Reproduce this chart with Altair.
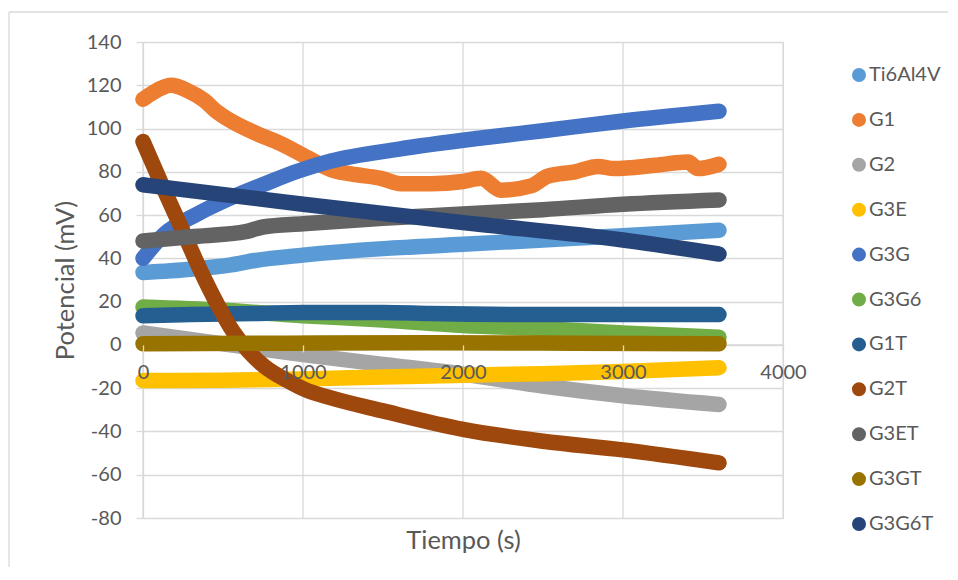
import altair as alt
import pandas as pd

names = ["Ti6Al4V", "G1", "G2", "G3E", "G3G", "G3G6", "G1T", "G2T", "G3ET", "G3GT", "G3G6T"]
colors = ["#5B9BD5", "#ED7D31", "#A5A5A5", "#FFC000", "#4472C4", "#70AD47",
          "#255E91", "#9E480E", "#636363", "#997300", "#264478"]

t_ti6al4v = [0, 300, 550, 700, 1000, 1500, 2000, 2500, 3000, 3600]
v_ti6al4v = [33.5, 35, 37, 39, 41.5, 44.5, 46.5, 48.5, 50.5, 53]

t_g1 = [0, 60, 175, 280, 383, 450, 550, 700, 862, 1029, 1175, 1300, 1487, 1612, 1800,
        2000, 2112, 2237, 2425, 2531, 2700, 2843, 2945, 3200, 3406, 3469, 3600]
v_g1 = [113.5, 116.5, 120, 117.5, 113, 108.5, 103.5, 98, 93, 86.5, 81, 79, 77, 74.5, 74.5,
        75.5, 77, 71.5, 73.5, 78, 80, 82.5, 81.5, 83, 84.5, 81.5, 83.5]

t_g2 = [0, 500, 1000, 1500, 2000, 2500, 3000, 3600]
v_g2 = [5.5, 0.5, -4.5, -9, -13.5, -19, -23.5, -27.5]

t_g3e = [0, 500, 1000, 1500, 2000, 2500, 3000, 3600]
v_g3e = [-16.5, -16.3, -15.7, -14.8, -14, -13.3, -12.3, -10.5]

t_g3g = [0, 130, 340, 550, 760, 970, 1175, 1600, 2100, 2500, 3000, 3600]
v_g3g = [40, 51, 60.5, 68, 74.4, 80.4, 85, 90.5, 95.5, 99, 103.5, 108]

t_g3g6 = [0, 500, 1000, 1500, 2000, 2500, 3000, 3600]
v_g3g6 = [17.5, 16, 13.5, 11.5, 9, 7.5, 5.5, 3.5]

t_g1t = [0, 300, 700, 1000, 1500, 1800, 2500, 3000, 3600]
v_g1t = [13.5, 14, 14.5, 15, 15, 14.5, 14, 14, 14]

t_g2t = [0, 130, 256, 362, 467, 560, 660, 760, 904, 1008, 1175, 1500, 2000, 2500, 3000, 3600]
v_g2t = [94, 72, 51.5, 34, 18.5, 6.5, -3, -10, -16.6, -20.5, -24.5, -30.5, -39, -44.5, -48.5, -54.5]

t_g3et = [0, 300, 650, 750, 1000, 1500, 2000, 2500, 3000, 3600]
v_g3et = [48, 50, 52.5, 54.5, 56, 58.5, 60.5, 62.5, 65, 67]

t_g3gt = [0, 900, 1800, 2700, 3600]
v_g3gt = [0.5, 0.8, 1, 0.8, 0.5]

t_g3g6t = [0, 1000, 2000, 3000, 3600]
v_g3g6t = [74, 65, 56.5, 48.5, 42]

x_ticks = [0, 1000, 2000, 3000, 4000]
y_ticks = list(range(-80, 141, 20))

series = [
    ("Ti6Al4V", t_ti6al4v, v_ti6al4v), ("G1", t_g1, v_g1), ("G2", t_g2, v_g2),
    ("G3E", t_g3e, v_g3e), ("G3G", t_g3g, v_g3g), ("G3G6", t_g3g6, v_g3g6),
    ("G1T", t_g1t, v_g1t), ("G2T", t_g2t, v_g2t), ("G3ET", t_g3et, v_g3et),
    ("G3GT", t_g3gt, v_g3gt), ("G3G6T", t_g3g6t, v_g3g6t),
]
rows = []
for name, ts, vs in series:
    for t, v in zip(ts, vs):
        rows.append({"series": name, "t": t, "v": v})
df = pd.DataFrame(rows)

FONT = "Lato"
TXT = "#595959"
GRID = "#D9D9D9"
W, H = 640, 476
zero_frac = (y_ticks[-1] - 0) / (y_ticks[-1] - y_ticks[0])
x_offset = -(H - H * zero_frac)

xscale = alt.Scale(domain=[x_ticks[0], x_ticks[-1]], nice=False, zero=False)
yscale = alt.Scale(domain=[y_ticks[0], y_ticks[-1]], nice=False, zero=False)
cscale = alt.Scale(domain=names, range=colors)

xaxis = alt.Axis(values=x_ticks, grid=False, domain=False, ticks=True, tickSize=7,
                 tickColor=GRID, tickWidth=1.3, labelFontSize=20, labelColor=TXT, labelFont=FONT,
                 labelPadding=11, offset=x_offset, title="Tiempo (s)", titleFontSize=25.5,
                 titleFont=FONT, titleColor=TXT, titleFontWeight="normal", titleX=W / 2,
                 titleY=H + 22 - H * zero_frac, titleBaseline="middle", zindex=1,
                 labelExpr="'' + datum.value", labelFlush=False)
yaxis = alt.Axis(values=y_ticks, grid=True, gridColor=GRID, gridWidth=1.3, domain=True,
                 domainColor=GRID, domainWidth=1.3, tickSize=7, tickColor=GRID, tickWidth=1.3,
                 labelFontSize=20, labelColor=TXT, labelFont=FONT, labelPadding=15,
                 title="Potencial (mV)", titleFontSize=25.5, titleFont=FONT, titleColor=TXT,
                 titleFontWeight="normal", titleX=-78, titleY=H / 2, titleBaseline="middle",
                 labelExpr="'' + datum.value")
legend = alt.Legend(title=None, orient="none", legendX=706, legendY=23, symbolType="circle",
                    symbolSize=49, symbolStrokeWidth=7, labelFontSize=20, labelColor=TXT,
                    labelFont=FONT, rowPadding=8.9, labelOffset=0, padding=0)

X = alt.X("t:Q", scale=xscale, axis=xaxis)
Y = alt.Y("v:Q", scale=yscale, axis=yaxis)

gx = pd.DataFrame({"t": x_ticks})
grid_x = alt.Chart(gx).mark_rule(color=GRID, strokeWidth=1.3).encode(
    x=X, y=alt.datum(y_ticks[0], type="quantitative", scale=yscale, axis=yaxis),
    y2=alt.datum(y_ticks[-1]))

zl = pd.DataFrame({"t": [x_ticks[0]], "t2": [x_ticks[-1]], "v": [0]})
zero_line = alt.Chart(zl).mark_rule(color=GRID, strokeWidth=1.3).encode(
    x=X, x2="t2:Q", y=Y)

line_layers = []
for name in names:
    line_layers.append(
        alt.Chart(df).transform_filter(alt.datum.series == name)
        .mark_line(strokeWidth=15.5, strokeCap="round", strokeJoin="round",
                   interpolate="monotone")
        .encode(x=X, y=Y, color=alt.Color("series:N", scale=cscale, legend=legend))
    )

frame_df = pd.DataFrame({"k": [0]})
frame_left = alt.Chart(frame_df).mark_rule(color=GRID, strokeWidth=1.3).encode(
    x=alt.value(-134), y=alt.value(-30), y2=alt.value(525))
frame_top = alt.Chart(frame_df).mark_rule(color=GRID, strokeWidth=1.3).encode(
    x=alt.value(-134), x2=alt.value(805), y=alt.value(-30))

chart = alt.layer(grid_x, zero_line, *line_layers, frame_left, frame_top).properties(
    width=W, height=H, padding={"left": 0, "top": 3, "right": 0, "bottom": 0}
).configure_view(strokeWidth=0).configure(font=FONT)

chart.save("out.html", embed_options={"renderer": "svg", "actions": False})
